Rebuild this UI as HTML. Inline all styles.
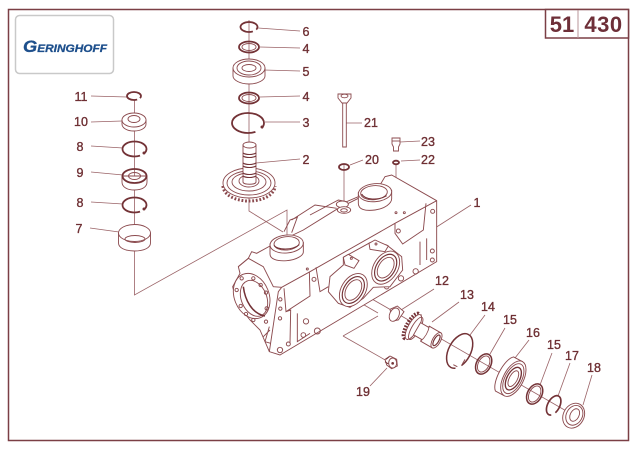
<!DOCTYPE html>
<html><head><meta charset="utf-8"><style>
html,body{margin:0;padding:0;background:#fff}
svg{display:block;filter:blur(.3px)}
text{font-family:"Liberation Sans",sans-serif}
.l text{font-size:12.500px;fill:#6e2f33;stroke:#6e2f33;stroke-width:.35;text-anchor:middle}
.t{fill:none;stroke:#8b4a4e;stroke-width:.9}
.d{fill:none;stroke:#733236;stroke-width:1.800}
.w{fill:#fff;stroke:#8b4a4e;stroke-width:.9}
.z{fill:none;stroke:#8b4a4e;stroke-width:2.800}
.zd{fill:none;stroke:#733236;stroke-width:4.600}
.zw{fill:#fff;stroke:#8b4a4e;stroke-width:2.800}
.g{fill:none;stroke:#9a6266;stroke-width:.8}
.o{stroke-dasharray:91 9;stroke-dashoffset:-16}
</style></head><body>
<svg width="640" height="450" viewBox="0 0 640 450" xmlns="http://www.w3.org/2000/svg">
<rect width="640" height="450" fill="#fff"/>
<rect x="8.500" y="9.500" width="620" height="431" fill="none" stroke="#7b3f45" stroke-width="1.500"/>
<rect x="545.500" y="9.500" width="83" height="28.500" fill="#fff" stroke="#7b3f45" stroke-width="1.500"/>
<line x1="578" y1="10" x2="578" y2="38" stroke="#b89499" stroke-width="1"/>
<text x="562" y="32" font-size="22" font-weight="bold" fill="#6e2f38" text-anchor="middle">51</text>
<text x="603.500" y="32" font-size="22" font-weight="bold" fill="#6e2f38" text-anchor="middle" letter-spacing=".5">430</text>

<rect x="15.500" y="15.500" width="98" height="58" rx="4" fill="#fff" stroke="#c9c9c9" stroke-width="1.500"/>
<text x="23" y="52" font-weight="bold" font-style="italic" fill="#1d4f8c" stroke="#1d4f8c" stroke-width=".3" textLength="84" lengthAdjust="spacingAndGlyphs"><tspan font-size="17">G</tspan><tspan font-size="11">ERINGHOFF</tspan></text>

<!-- axes -->
<g class="g">
<polyline points="134.500,100 134.500,295 287,210 287,240"/>
<polyline points="249,20 249,202 249,211 283,232"/>
<polyline points="344,165 344,210"/>
<polyline points="396,165 396,213"/>
<polyline points="340,291 378,313"/>
<polyline points="343,336 378,316"/>
<polyline points="343,336 387,361"/>
<line x1="365" y1="295" x2="575" y2="416"/>
</g>

<!-- leaders -->
<g class="g">
<line x1="91" y1="96" x2="127" y2="97"/><line x1="91" y1="122" x2="122" y2="121"/>
<line x1="91" y1="146" x2="123" y2="148"/><line x1="91" y1="172" x2="123" y2="175"/>
<line x1="91" y1="202" x2="123" y2="204"/><line x1="90" y1="228" x2="119" y2="232"/>
<line x1="258" y1="28" x2="300" y2="31"/><line x1="260" y1="47" x2="300" y2="48"/>
<line x1="264" y1="70" x2="300" y2="71"/><line x1="260" y1="97" x2="300" y2="96"/>
<line x1="265" y1="122" x2="300" y2="122"/><line x1="256" y1="163" x2="300" y2="159"/>
<line x1="345" y1="123" x2="362" y2="123"/><line x1="350" y1="165" x2="363" y2="160"/>
<line x1="400" y1="142" x2="420" y2="141"/><line x1="401" y1="161" x2="420" y2="160"/>
<line x1="435" y1="228" x2="471" y2="205"/>
<line x1="401" y1="310" x2="434" y2="289"/><line x1="432" y1="322" x2="459" y2="302"/>
<line x1="470" y1="335" x2="485" y2="315"/><line x1="490" y1="354" x2="505" y2="328"/>
<line x1="515" y1="358" x2="529" y2="340"/><line x1="540" y1="385" x2="552" y2="353"/>
<line x1="558" y1="396" x2="570" y2="363"/><line x1="583" y1="405" x2="592" y2="375"/>
<line x1="387" y1="368" x2="370" y2="386"/>
</g>

<!-- left stack -->
<ellipse class="d o" pathLength="100" cx="134" cy="96" rx="7" ry="4"/>
<path class="w" d="M122 120v4c0 4 5 7 12 7s12-3 12-7v-4z"/><ellipse class="w" cx="134" cy="120" rx="12" ry="7"/><ellipse class="t" cx="134" cy="119" rx="6" ry="3.500"/>
<ellipse class="d o" pathLength="100" cx="134.500" cy="149" rx="12" ry="7.500"/><circle cx="144" cy="153" r="1.500" fill="#733236"/>
<path class="w" d="M122 176v6c0 5 5 8 12.500 8s12.500-3 12.500-8v-6z"/><ellipse class="d" fill="#fff" cx="134.500" cy="176" rx="12" ry="7"/><ellipse class="t" cx="134.500" cy="176" rx="6" ry="3.500"/>
<ellipse class="d o" pathLength="100" cx="134.500" cy="205" rx="12" ry="7.500"/><circle cx="144" cy="209" r="1.500" fill="#733236"/>
<path class="w" d="M118.500 233v10c0 5 7 8 16 8s16-3 16-8v-10z"/><ellipse class="w" cx="134.500" cy="233" rx="16" ry="8.500"/><ellipse class="t" cx="135" cy="239" rx="10" ry="3.500"/>

<!-- centre stack -->
<ellipse class="d o" pathLength="100" cx="249" cy="27" rx="8.500" ry="5"/>
<ellipse class="d" cx="249" cy="47" rx="10" ry="5.500"/><ellipse class="t" cx="249" cy="47" rx="7" ry="3.500"/>
<path class="w" d="M233 68v8c0 4 7 8 16 8s16-4 16-8v-8z"/><ellipse class="w" cx="249" cy="68" rx="16" ry="9"/><ellipse class="t" cx="249" cy="68" rx="12" ry="7"/><ellipse class="t" cx="249" cy="68" rx="7" ry="3.500"/>
<ellipse class="d" cx="249" cy="98" rx="10" ry="5.500"/><ellipse class="t" cx="249" cy="98" rx="7" ry="3.500"/>
<ellipse class="d o" pathLength="100" cx="248" cy="123" rx="16" ry="10"/><circle cx="262" cy="127" r="1.500" fill="#733236"/>

<!-- gear 2 -->
<path d="M223 186a26 15 0 0 0 52 0" fill="none" stroke="#8b4a4e" stroke-width="3" stroke-dasharray="1.800 1.800"/>
<ellipse class="w" cx="249" cy="183" rx="26" ry="15"/>
<ellipse class="t" cx="249" cy="183" rx="22" ry="12"/>
<ellipse class="t" cx="249" cy="182" rx="17" ry="9"/>
<ellipse class="w" cx="249" cy="181" rx="10" ry="6"/>
<path class="w" d="M243 145v37c0 3 13 3 13 0v-37z"/>
<ellipse class="w" cx="249.500" cy="145" rx="6.500" ry="3"/>
<g class="d" style="stroke-width:1.100"><path d="M243 153c3 2 10 2 13 0M243 156c3 2 10 2 13 0M243 163c3 2 10 2 13 0M243 166c3 2 10 2 13 0M243 173c3 2 10 2 13 0M243 176c3 2 10 2 13 0"/></g>

<!-- 21,20,23,22 -->
<path class="w" d="M338 94h13v4l-4 5h-5l-4-5z"/><ellipse class="t" cx="344.500" cy="96" rx="3.500" ry="1.800"/>
<path class="w" d="M342.700 103h3.600v44h-3.600z"/>
<ellipse class="d" cx="344" cy="167" rx="5" ry="3"/>
<path class="w" d="M392 138h8v6l-1.500 3v4h-5v-4l-1.500-3z"/><path class="t" d="M392 141h8"/>
<ellipse class="d" cx="396" cy="162.500" rx="3" ry="1.800"/>

<!-- housing (zoom coords) -->
<g transform="translate(210,170) scale(.33333)">
<path d="M115 265 L125 245 L140 250 L180 228 L280 180 L380 118 L445 85 L510 45 L525 20 L545 15 L680 92 L680 275 L210 555 L178 545 L150 480 L120 450 L80 400 L68 350 L90 310 L85 290Z" fill="#fff" stroke="#8b4a4e" stroke-width="2.800"/>
<path class="z" d="M215 352 L300 305 L555 160 L680 92M215 352 L205 365 L178 545M85 290 L115 265 L160 290 L190 350 L215 352"/>
<path class="z" d="M222 355 L228 425 L300 378 L298 305M555 160 L555 190 L578 222 L640 180 L648 100M318 292 L330 365 L355 350M228 425 L242 420 L240 520 M262 430 L262 515 L300 490 M650 205 L650 270 M630 215 L630 285"/>
<path class="z" d="M180 480 L160 500 M178 470 L165 515 L182 520"/>
<ellipse class="zw" transform="rotate(-22 125 378)" cx="125" cy="378" rx="52" ry="70"/>
<ellipse class="z" transform="rotate(-22 132 385)" cx="132" cy="385" rx="38" ry="56"/>
<path class="zd" d="M100 350 C105 390 125 430 165 438"/>
<g class="z">
<circle cx="95" cy="325" r="5"/><circle cx="130" cy="325" r="5"/><circle cx="152" cy="345" r="5"/><circle cx="168" cy="368" r="5"/><circle cx="170" cy="415" r="5"/><circle cx="168" cy="455" r="5"/><circle cx="130" cy="450" r="5"/><circle cx="108" cy="432" r="5"/><circle cx="92" cy="408" r="5"/><circle cx="80" cy="360" r="5"/>
<circle cx="211" cy="388" r="5"/><circle cx="211" cy="416" r="5"/><circle cx="210" cy="445" r="5"/><circle cx="210" cy="540" r="8"/><circle cx="235" cy="522" r="6"/><circle cx="280" cy="495" r="7"/><circle cx="322" cy="483" r="9"/><circle cx="288" cy="454" r="8"/><circle cx="312" cy="328" r="6"/>
<circle cx="565" cy="183" r="6"/><circle cx="668" cy="124" r="6"/><circle cx="667" cy="243" r="6"/><circle cx="667" cy="270" r="6"/><circle cx="617" cy="304" r="8"/><circle cx="573" cy="325" r="8"/><circle cx="530" cy="350" r="7"/><circle cx="558" cy="128" r="3"/><circle cx="583" cy="128" r="3"/><circle cx="292" cy="297" r="3"/>
</g>
<!-- rear boss -->
<path class="zw" d="M445 68v32c0 18 20 24 50 20s50-20 50-34V62z"/>
<ellipse class="zw" transform="rotate(-5 495 68)" cx="495" cy="68" rx="50" ry="27"/>
<ellipse class="z" transform="rotate(-5 492 68)" cx="492" cy="68" rx="40" ry="21"/>
<path class="zd" style="stroke-width:3" d="M455 72c10 18 50 20 75 5"/>
<!-- front boss top -->
<path class="zw" d="M180 222v30c0 15 20 22 50 20s50-16 50-26V218z"/>
<ellipse class="zw" transform="rotate(-5 230 222)" cx="230" cy="222" rx="50" ry="27"/>
<ellipse class="z" transform="rotate(-5 230 220)" cx="230" cy="220" rx="38" ry="20"/>
<path class="zd" style="stroke-width:3" d="M192 226c10 14 55 16 76-2"/>
<!-- raised plate -->
<path class="z" d="M222 185 L240 150 L262 142 L245 188 M245 150 L315 105 L380 115 M300 135 L385 90 L410 95 L445 80"/>
<ellipse class="zw" cx="397" cy="103" rx="18" ry="10"/><ellipse class="zw" cx="402" cy="120" rx="20" ry="10"/><ellipse class="z" cx="402" cy="121" rx="10" ry="5"/>
<!-- lower bosses -->
<path class="zw" d="M400 262 L480 218 L530 225 L575 260 L578 300 L540 350 L490 352 L460 385 L420 412 L385 400 L355 365 L360 320 L400 285Z"/>
<path class="zw" d="M400 262 L415 253 L447 272 L432 295 L405 285Z"/>
<circle class="z" cx="424" cy="265" r="3"/>
<path class="zw" d="M477 220 L495 210 L535 228 L525 245 L480 238Z"/>
<circle class="z" cx="498" cy="222" r="3"/>
<ellipse class="zw" transform="rotate(32 430 360)" cx="430" cy="360" rx="36" ry="54"/>
<ellipse class="zd" style="stroke-width:3.500" transform="rotate(32 430 360)" cx="430" cy="360" rx="28" ry="44"/>
<ellipse class="z" transform="rotate(32 430 360)" cx="430" cy="360" rx="21" ry="34"/>
<ellipse class="zw" transform="rotate(32 527 293)" cx="527" cy="293" rx="36" ry="54"/>
<ellipse class="zd" style="stroke-width:3.500" transform="rotate(32 527 293)" cx="527" cy="293" rx="28" ry="44"/>
<ellipse class="z" transform="rotate(32 527 293)" cx="527" cy="293" rx="21" ry="34"/>
</g>

<!-- lower parts (zoom coords) -->
<g transform="translate(340,270) scale(.33333)">
<!-- 12 -->
<path class="zw" d="M150 118 L172 108 L192 125 L175 150 L158 153Z"/>
<ellipse class="zw" transform="rotate(25 163 134)" cx="163" cy="134" rx="14" ry="21"/>
<!-- 13 -->
<g transform="translate(215,168) rotate(30)">
<ellipse cx="0" cy="0" rx="14" ry="42" fill="none" stroke="#733236" stroke-width="12" stroke-dasharray="5 4"/>
<ellipse class="zw" cx="6" cy="0" rx="15" ry="42"/>
<ellipse class="z" cx="14" cy="0" rx="12" ry="38"/>
<path class="zw" d="M18 -22 H46 V-26 H86 V26 H46 V20 H18Z"/>
<path class="z" d="M46 -26 C52 -10 52 10 46 26"/>
<ellipse class="zw" cx="86" cy="0" rx="12" ry="26"/>
<ellipse class="zd" style="stroke-width:3.500" cx="86" cy="0" rx="7" ry="18"/>
</g>
<!-- 14 -->
<ellipse class="zd" style="stroke-width:4.500;stroke-dasharray:93 7;stroke-dashoffset:-20" pathLength="100" transform="rotate(28 359 243)" cx="359" cy="243" rx="33" ry="56"/>
<path class="z" d="M375 268l-8 14M340 284l12 6"/>
<!-- 15 -->
<ellipse class="zd" style="stroke-width:4.500" transform="rotate(28 431 282)" cx="431" cy="282" rx="21.500" ry="32.500"/><ellipse class="z" transform="rotate(28 431 282)" cx="431" cy="282" rx="16" ry="26"/>
<!-- 16 -->
<g transform="translate(520,326) rotate(28)">
<path class="zw" d="M-30 -58 H0 V58 H-30 C-52 40 -52 -40 -30 -58Z"/>
<ellipse class="zw" cx="0" cy="0" rx="30" ry="58"/>
<ellipse class="z" cx="0" cy="0" rx="25" ry="49"/>
<ellipse class="zd" style="stroke-width:4" cx="0" cy="0" rx="19" ry="37"/>
<ellipse class="z" cx="0" cy="0" rx="12" ry="26"/>
</g>
<!-- 15 -->
<ellipse class="zd" style="stroke-width:4.500" transform="rotate(28 584 372)" cx="584" cy="372" rx="21.500" ry="32.500"/><ellipse class="z" transform="rotate(28 584 372)" cx="584" cy="372" rx="16" ry="26"/>
<!-- 17 -->
<ellipse class="zd" style="stroke-width:5;stroke-dasharray:91 9;stroke-dashoffset:-20" pathLength="100" transform="rotate(28 641 406)" cx="641" cy="406" rx="18" ry="31.500"/>
<!-- 18 -->
<ellipse class="zw" transform="rotate(28 701 437)" cx="701" cy="437" rx="31" ry="39"/><ellipse class="z" transform="rotate(28 703 436)" cx="703" cy="436" rx="24" ry="31"/><ellipse class="z" transform="rotate(28 704 435)" cx="704" cy="435" rx="13" ry="20"/>
<!-- 19 -->
<path class="zw" d="M135 268 L150 258 L170 268 L172 288 L155 296 L140 285Z"/><ellipse class="zw" cx="158" cy="279" rx="12" ry="15"/><circle cx="158" cy="280" r="4" fill="#733236"/>
<path class="zd" style="stroke-width:3" d="M138 268 L148 260 M135 275 L145 282"/>
</g>

<g class="l">
<text x="306" y="36">6</text><text x="306" y="53">4</text><text x="306" y="76">5</text><text x="306" y="101">4</text><text x="306" y="127">3</text><text x="306" y="164">2</text>
<text x="371" y="127">21</text><text x="372" y="164">20</text><text x="428" y="146">23</text><text x="428" y="164">22</text><text x="477" y="207">1</text>
<text x="81" y="101">11</text><text x="81" y="126">10</text><text x="80" y="151">8</text><text x="80" y="177">9</text><text x="80" y="207">8</text><text x="79" y="233">7</text>
<text x="442" y="285">12</text><text x="467" y="299">13</text><text x="488" y="311">14</text><text x="510" y="324">15</text><text x="533" y="337">16</text><text x="554" y="349">15</text><text x="572" y="360">17</text><text x="594" y="372">18</text><text x="363" y="396">19</text>
</g>
</svg>
</body></html>
